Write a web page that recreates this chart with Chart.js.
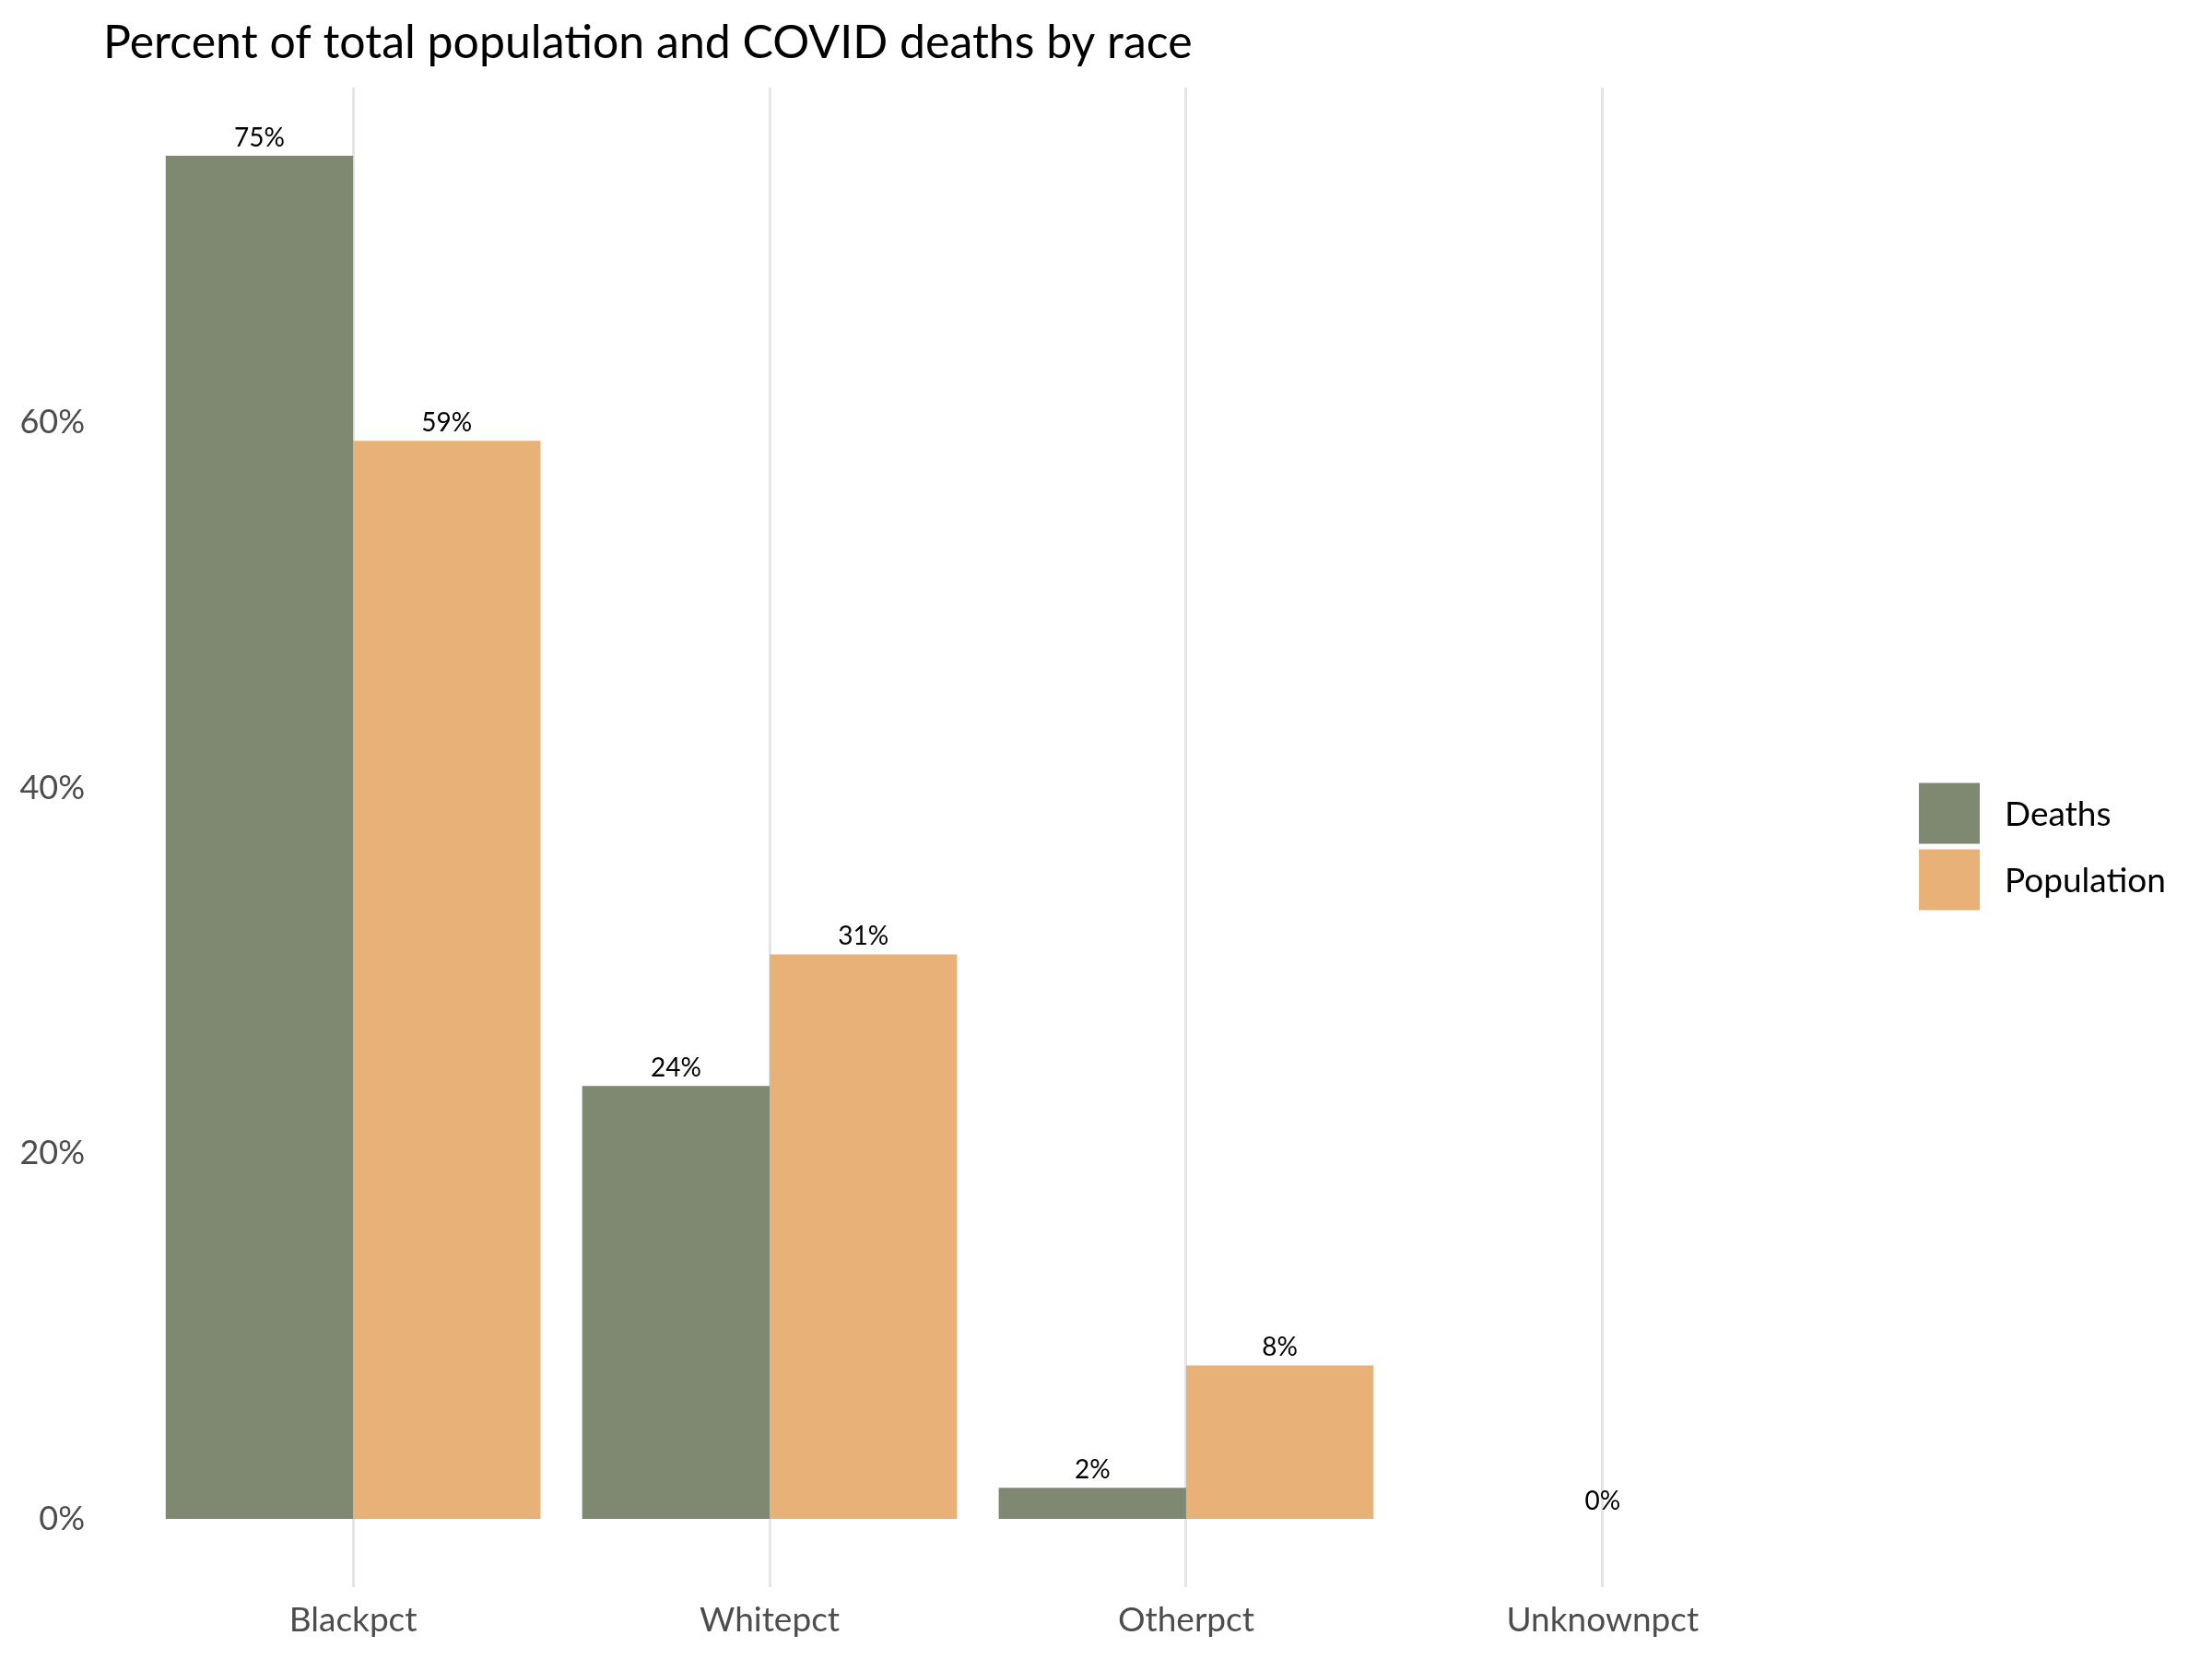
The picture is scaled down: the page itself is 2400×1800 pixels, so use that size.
<!DOCTYPE html>
<html><head><meta charset="utf-8">
<script src="https://cdn.jsdelivr.net/npm/chart.js@4"></script>
<style>html,body{margin:0;padding:0;background:#fff}#wrap{width:2400px;height:1800px}</style>
</head><body><div id="wrap"><canvas id="c" width="2400" height="1800"></canvas></div>
<script>
const categories = ['Blackpct', 'Whitepct', 'Otherpct', 'Unknownpct'];
const seriesNames = ['Deaths', 'Population'];
const deathsPct = [74.6, 23.7, 1.7, 0];
const populationPct = [59.0, 30.9, 8.4, null];
const yTickStep = 20;
const colors = ['#7f8870', '#e8b178'];

const FONT = 'Lato';
const allVals = deathsPct.concat(populationPct).filter(v => v != null);
const vmax = Math.max(...allVals);
const yMin = -0.05 * vmax, yMax = 1.05 * vmax;

function pts(arr) { return arr.map((v, i) => ({ x: i + 1, y: v })); }

const labelPlugin = {
  id: 'barLabels',
  afterDatasetsDraw(chart) {
    const ctx = chart.ctx; const xs = chart.scales.x;
    ctx.save();
    ctx.font = `28px ${FONT}`; ctx.fillStyle = '#000';
    ctx.textAlign = 'center'; ctx.textBaseline = 'alphabetic';
    chart.data.datasets.forEach((ds, di) => {
      const meta = chart.getDatasetMeta(di);
      ds.data.forEach((p, i) => {
        if (p.y == null) return;
        const el = meta.data[i];
        const alone = chart.data.datasets.every((o, oi) => oi === di || o.data[i].y == null);
        const x = alone ? xs.getPixelForValue(p.x) : el.x;
        ctx.fillText(Math.round(p.y) + '%', x, el.y - 10);
      });
    });
    ctx.restore();
  }
};

const legendPlugin = {
  id: 'sideLegend',
  afterDraw(chart) {
    const { ctx, chartArea: a } = chart;
    const box = 66, gap = 6, x = a.right + 72;
    const total = seriesNames.length * box + (seriesNames.length - 1) * gap;
    let y = (a.top + a.bottom) / 2 + 10 - total / 2;
    ctx.save();
    ctx.font = `37px ${FONT}`; ctx.textBaseline = 'middle'; ctx.textAlign = 'left';
    seriesNames.forEach((n, i) => {
      ctx.fillStyle = colors[i]; ctx.fillRect(x, y, box, box);
      ctx.fillStyle = '#000'; ctx.fillText(n, x + box + 27, y + box / 2 + 2);
      y += box + gap;
    });
    ctx.restore();
  }
};

new Chart(document.getElementById('c').getContext('2d'), {
  type: 'bar',
  data: {
    datasets: [
      { label: seriesNames[0], data: pts(deathsPct), backgroundColor: colors[0], categoryPercentage: 0.9, barPercentage: 1.0, borderWidth: 0 },
      { label: seriesNames[1], data: pts(populationPct), backgroundColor: colors[1], categoryPercentage: 0.9, barPercentage: 1.0, borderWidth: 0 }
    ]
  },
  options: {
    responsive: false, animation: false, devicePixelRatio: 1,
    layout: { padding: { left: 0, right: 390, top: 0, bottom: 0 } },
    plugins: {
      legend: { display: false }, tooltip: { enabled: false },
      title: {
        display: true, text: 'Percent of total population and COVID deaths by race',
        align: 'start', fullSize: false, color: '#000',
        font: { family: FONT, size: 50, weight: 'normal' }, padding: { top: 17, bottom: 18 }
      }
    },
    scales: {
      x: {
        type: 'linear', min: 0.4, max: 4.6, offset: false,
        grid: { color: '#e5e5e5', lineWidth: 3, drawTicks: false, offset: false },
        border: { display: false },
        afterBuildTicks(s) { s.ticks = categories.map((c, i) => ({ value: i + 1 })); },
        ticks: { callback: (v) => categories[Math.round(v) - 1], color: '#4d4d4d', font: { family: FONT, size: 37 }, padding: 14, autoSkip: false, maxRotation: 0 },
        afterFit(s) { s.height = 78; }
      },
      y: {
        min: yMin, max: yMax,
        grid: { display: false, drawTicks: false }, border: { display: false },
        ticks: { stepSize: yTickStep, includeBounds: false, callback: v => v + '%', color: '#4d4d4d', font: { family: FONT, size: 36 }, padding: 20 },
        afterFit(s) { s.width = 112; }
      }
    }
  },
  plugins: [labelPlugin, legendPlugin]
});
</script></body></html>
